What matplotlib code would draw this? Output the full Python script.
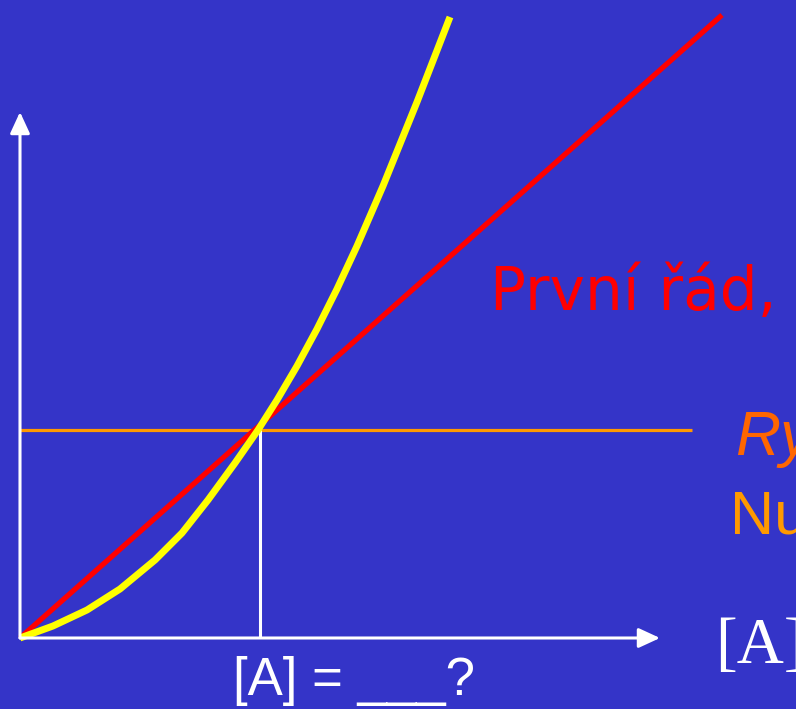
import matplotlib.pyplot as plt

# data (in picture units, origin at the axes corner)
conc_lin = [0, 702]
rate_lin = [0, 623]

conc_sq = [0, 33, 67, 100, 135, 162, 188, 215, 238, 257, 277, 297, 317, 337, 363, 397, 430]
rate_sq = [0, 12, 28, 49, 78, 105, 138, 175, 208, 238, 272, 309, 349, 392, 452, 536, 621]

rate_zero = 208   # zero order rate level
zero_end = 672
x_cross = 240     # [A] where rates equal
x_axis_end = 640
y_axis_end = 526

bg = '#3434C8'

fig = plt.figure(figsize=(7.96, 7.09), dpi=100)
fig.patch.set_facecolor(bg)
ax = fig.add_axes([0, 0, 1, 1])
ax.set_facecolor(bg)
ax.set_xlim(-20, 776)
ax.set_ylim(-71, 638)
ax.axis('off')

# osy se sipkami
arrow = dict(arrowstyle='-|>,head_length=1.3,head_width=0.6', color='white', lw=2.2,
             shrinkA=0, shrinkB=0)
ax.annotate('', xy=(x_axis_end, 0), xytext=(0, 0), arrowprops=arrow)
ax.annotate('', xy=(0, y_axis_end), xytext=(0, 0), arrowprops=arrow)

# nulty rad
ax.plot([0, zero_end], [rate_zero, rate_zero], color='#FF9900', lw=2.3, solid_capstyle='butt')
ax.plot([x_cross, x_cross], [0, rate_zero], color='white', lw=2.2, solid_capstyle='butt')

# prvni rad
ax.plot(conc_lin, rate_lin, color='#FF0000', lw=3.8, solid_capstyle='butt')

# druhy rad
ax.plot(conc_sq, rate_sq, color='#FFFF00', lw=5, solid_capstyle='butt', solid_joinstyle='round')

# texty
ax.text(470, 638 - 310, 'První řád,', color='#FF0000', fontsize=43,
        family='DejaVu Sans', va='baseline', ha='left')
ax.text(715, 638 - 455, 'Ry', color='#FF6600', fontsize=45, style='italic',
        family='Liberation Sans', va='baseline', ha='left')
ax.text(710, 638 - 533, 'Nu', color='#FF9900', fontsize=44,
        family='Liberation Sans', va='baseline', ha='left')
ax.text(695, 638 - 663, '[A]', color='white', fontsize=47,
        family='Liberation Serif', va='baseline', ha='left')
ax.text(213, 638 - 695, '[A] = ___?', color='white', fontsize=38,
        family='Liberation Sans', va='baseline', ha='left')

plt.savefig('out.png', dpi=100, facecolor=bg)
